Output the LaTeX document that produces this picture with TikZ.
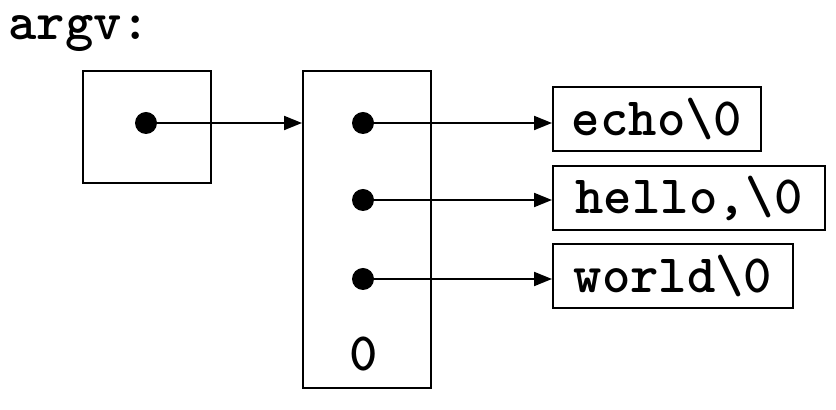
\documentclass[tikz,border=0pt]{standalone}
\usetikzlibrary{arrows.meta}
\tikzset{>={Triangle[length=9pt,width=7pt]}}
\tikzset{
  cell/.style={draw, line width=1pt, inner sep=0pt},
  ptr/.style={circle, fill, inner sep=0pt, minimum size=11pt},
  cour/.style={font=\ttfamily\bfseries\fontsize{27}{27}\selectfont},
  strbox/.style={draw, cour, line width=1pt, inner sep=0pt, minimum height=32pt},
}

\begin{document}
\begin{tikzpicture}[x=0.5pt, y=-0.5pt]
    \useasboundingbox (0,0) rectangle (836,410);
    \node[cour, anchor=base west, inner sep=0pt] (argv) at (8,40) {argv:};
    \node[cell, minimum width=64pt, minimum height=56pt] (argvbox) at (147,127) {};
    \node[cell, minimum width=64pt, minimum height=158.5pt] (vec) at (367,229.5) {};
    \node[ptr] (p) at (146,123) {};
    \node[ptr] (p0) at (363,123) {};
    \node[ptr] (p1) at (363,200) {};
    \node[ptr] (p2) at (363,279) {};
    \node[cour] (null) at (364,354) {0};
    \node[strbox, minimum width=104pt] (s0) at (657,119) {echo\textbackslash0};
    \node[strbox, minimum width=136pt] (s1) at (689,198.5) {hello,\textbackslash0};
    \node[strbox, minimum width=120pt] (s2) at (673,276) {world\textbackslash0};
    \draw[->, line width=1pt] (p.center) -- (p -| vec.west);
    \draw[->, line width=1pt] (p0.center) -- (p0 -| s0.west);
    \draw[->, line width=1pt] (p1.center) -- (p1 -| s1.west);
    \draw[->, line width=1pt] (p2.center) -- (p2 -| s2.west);
\end{tikzpicture}
\end{document}
